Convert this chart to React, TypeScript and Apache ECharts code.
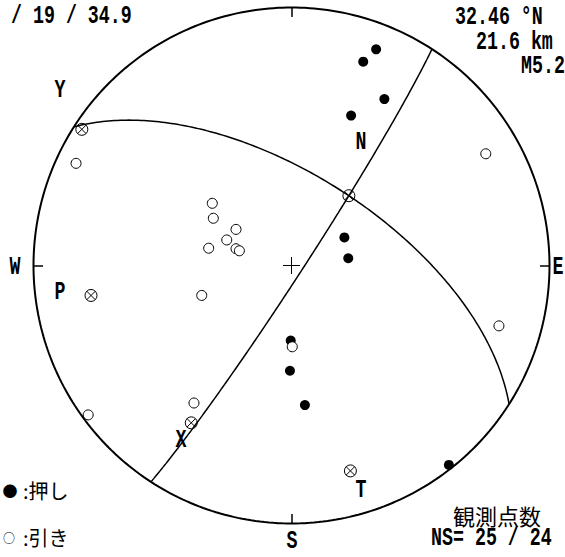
import React, { useEffect, useRef } from "react";
import * as echarts from "echarts";

// Station polarities, plotted positions on the net (unit radius, x = east, y = north)
const pushStations: [number, number][] = [
  [0.328, 0.838], [0.278, 0.79], [0.36, 0.645], [0.231, 0.581], [0.205, 0.109],
  [0.22, 0.028], [-0.003, -0.291], [-0.006, -0.408], [0.052, -0.541], [0.61, -0.773],
];
const pullStations: [number, number][] = [
  [0.753, 0.433], [0.804, -0.234], [-0.835, 0.396], [-0.788, -0.579], [-0.307, 0.241],
  [-0.303, 0.183], [-0.215, 0.14], [-0.251, 0.099], [-0.321, 0.067], [-0.215, 0.065],
  [-0.202, 0.057], [-0.348, -0.116], [0.003, -0.315], [-0.378, -0.533],
];
// Nodal planes
const nodalStrikes = [33, 302.5];
const nodalDips = [86.5, 61.5];
// Principal axes
const axisLabels = ["P", "T"];
const axisTrends = [261.5, 164];
const axisPlunges = [22.5, 18.3];

// Header / footer texts
const headerLeft = ["/ 19 / 34.9"];
const headerRight = ["32.46 °N", "21.6 km", "M5.2"];
const legendMarks = ["●", "○"];
const legendTexts = [":押し", ":引き"];
const countTitle = "観測点数";
const countText = "NS= 25 / 24";

const D2R = Math.PI / 180;

function project(trend: number, plunge: number): [number, number] {
  const r = Math.SQRT2 * Math.sin(((90 - plunge) * D2R) / 2);
  return [r * Math.sin(trend * D2R), r * Math.cos(trend * D2R)];
}
function vecToTP(n: number, e: number, d: number): [number, number] {
  if (d < 0) { n = -n; e = -e; d = -d; }
  const len = Math.hypot(n, e, d);
  return [Math.atan2(e, n) / D2R, Math.asin(Math.min(1, d / len)) / D2R];
}
function planeCurve(strike: number, dip: number): [number, number][] {
  const pts: [number, number][] = [];
  const dd = strike + 90;
  for (let i = 0; i <= 180; i++) {
    const l = i * D2R;
    const n = Math.cos(l) * Math.cos(strike * D2R) + Math.sin(l) * Math.cos(dip * D2R) * Math.cos(dd * D2R);
    const e = Math.cos(l) * Math.sin(strike * D2R) + Math.sin(l) * Math.cos(dip * D2R) * Math.sin(dd * D2R);
    const d = Math.sin(l) * Math.sin(dip * D2R);
    const [t, p] = vecToTP(n, e, Math.max(d, 0));
    pts.push(project(t, p));
  }
  return pts;
}
function poleVec(strike: number, dip: number): [number, number, number] {
  const t = (strike + 270) * D2R;
  const p = (90 - dip) * D2R;
  return [Math.cos(p) * Math.cos(t), Math.cos(p) * Math.sin(t), Math.sin(p)];
}

const SYM_OX = "path://M10,0A10,10,0,1,1,10,20A10,10,0,1,1,10,0ZM2.93,2.93L17.07,17.07M17.07,2.93L2.93,17.07";

const CX = 291.5, CY = 265.5, R = 258;
const MONO = "bold 18.3px 'Liberation Mono', monospace";
const CJK = "'Noto Sans CJK JP', sans-serif";

function txt(text: string, x: number, y: number, opts: any = {}) {
  return {
    type: "text",
    x, y,
    scaleY: opts.scaleY ?? 1.45,
    z: 100,
    style: {
      text,
      fill: "#000",
      font: opts.font ?? MONO,
      textAlign: opts.align ?? "left",
      textVerticalAlign: "middle",
    },
  };
}

export default function App() {
  const ref = useRef<HTMLDivElement>(null);
  useEffect(() => {
    if (!ref.current) return;
    const chart = echarts.init(ref.current, undefined, { renderer: "svg" });

    const circle: [number, number][] = [];
    for (let a = 0; a <= 360; a += 1) circle.push([Math.sin(a * D2R), Math.cos(a * D2R)]);

    const ticks = [0, 90, 180, 270].map((a) => ({
      coords: [
        [Math.sin(a * D2R), Math.cos(a * D2R)],
        [0.963 * Math.sin(a * D2R), 0.963 * Math.cos(a * D2R)],
      ],
    }));
    const cross = [
      { coords: [[-0.033, 0], [0.033, 0]] },
      { coords: [[0, -0.033], [0, 0.033]] },
    ];

    const p1 = poleVec(nodalStrikes[0], nodalDips[0]);
    const p2 = poleVec(nodalStrikes[1], nodalDips[1]);
    const b: [number, number, number] = [
      p1[1] * p2[2] - p1[2] * p2[1],
      p1[2] * p2[0] - p1[0] * p2[2],
      p1[0] * p2[1] - p1[1] * p2[0],
    ];
    const yTP = vecToTP(...p1);
    const xTP = vecToTP(...p2);
    const bTP = vecToTP(...b);
    const oxPoints = [
      project(axisTrends[0], axisPlunges[0]),
      project(axisTrends[1], axisPlunges[1]),
      project(bTP[0], bTP[1]),
      project(xTP[0], xTP[1]),
      project(yTP[0], yTP[1]),
    ];

    const graphic: any[] = [];
    headerLeft.forEach((t, i) => graphic.push(txt(t, 11, 16 + i * 24.5)));
    const rightX = [455, 476, 521];
    headerRight.forEach((t, i) => graphic.push(txt(t, rightX[i], 17.5 + i * 24.3)));
    const letters: [string, number, number][] = [
      ["Y", 60, 90], ["N", 361, 142], ["W", 15, 267], ["E", 558, 267],
      ["S", 292, 541], [axisLabels[0], 60, 292], ["X", 181, 440], [axisLabels[1], 361, 490],
    ];
    letters.forEach(([t, x, y]) => graphic.push(txt(t, x, y, { align: "center" })));
    // legend
    graphic.push(txt(legendMarks[0], 10, 490, { font: `15px ${CJK}`, scaleY: 1, align: "center" }));
    graphic.push(txt(legendMarks[1], 9, 537, { font: `12px ${CJK}`, scaleY: 1, align: "center" }));
    graphic.push(txt(legendTexts[0], 23, 490, { font: `20px ${CJK}`, scaleY: 1 }));
    graphic.push(txt(legendTexts[1], 23, 537, { font: `20px ${CJK}`, scaleY: 1 }));
    graphic.push(txt(countTitle, 453, 515, { font: `22px ${CJK}`, scaleY: 1 }));
    graphic.push(txt(countText, 431, 538));

    chart.setOption({
      animation: false,
      backgroundColor: "#fff",
      grid: { left: CX - R, top: CY - R, width: 2 * R, height: 2 * R },
      xAxis: { type: "value", min: -1, max: 1, show: false },
      yAxis: { type: "value", min: -1, max: 1, show: false },
      graphic,
      series: [
        {
          type: "line", data: circle, showSymbol: false, clip: false,
          lineStyle: { color: "#000", width: 2 }, silent: true,
        },
        {
          type: "lines", coordinateSystem: "cartesian2d", data: ticks,
          lineStyle: { color: "#000", width: 1.5, opacity: 1 }, silent: true,
        },
        {
          type: "lines", coordinateSystem: "cartesian2d", data: cross,
          lineStyle: { color: "#000", width: 1, opacity: 1 }, silent: true,
        },
        ...nodalStrikes.map((s, i) => ({
          type: "line", data: planeCurve(s, nodalDips[i]), showSymbol: false, clip: false,
          lineStyle: { color: "#000", width: 1.5 }, silent: true,
        })),
        {
          type: "scatter", data: pushStations, symbol: "circle", symbolSize: 10,
          itemStyle: { color: "#000", opacity: 1 }, silent: true,
        },
        {
          type: "scatter", data: pullStations, symbol: "circle", symbolSize: 10,
          itemStyle: { color: "#fff", borderColor: "#000", borderWidth: 1, opacity: 1 }, silent: true,
        },
        {
          type: "scatter", data: oxPoints, symbol: SYM_OX, symbolSize: 12, symbolKeepAspect: true,
          itemStyle: { color: "rgba(0,0,0,0)", borderColor: "#000", borderWidth: 1, opacity: 1 }, silent: true,
        },
      ],
    });
    return () => chart.dispose();
  }, []);
  return (
    <div
      ref={ref}
      style={{ position: "absolute", left: 0, top: 0, width: 565, height: 557, background: "#fff" }}
    />
  );
}
